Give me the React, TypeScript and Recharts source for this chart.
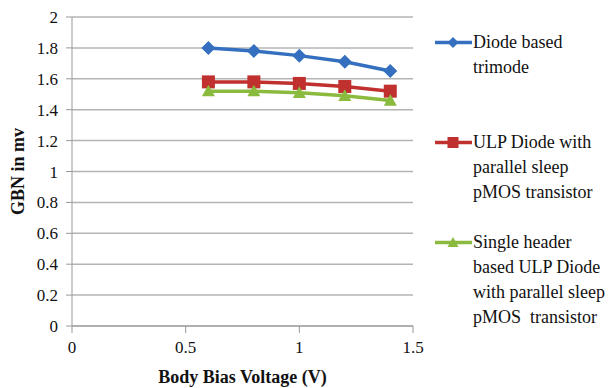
import { CartesianGrid, Line, LineChart, XAxis, YAxis } from "recharts";

const voltages = [0.6, 0.8, 1.0, 1.2, 1.4];
const diodeTrimode = [1.8, 1.78, 1.75, 1.71, 1.65];
const ulpDiode = [1.58, 1.58, 1.57, 1.55, 1.52];
const singleHeader = [1.52, 1.52, 1.51, 1.49, 1.46];
const xTicks = [0, 0.5, 1, 1.5];
const yTicks = [0, 0.2, 0.4, 0.6, 0.8, 1, 1.2, 1.4, 1.6, 1.8, 2];

const data = voltages.map((v, i) => ({ v, a: diodeTrimode[i], b: ulpDiode[i], c: singleHeader[i] }));

const series = [
  { key: "a", color: "#3470bf", shape: "diamond", lines: ["Diode based", "trimode"], top: 30 },
  { key: "b", color: "#c0302e", shape: "square", lines: ["ULP Diode with", "parallel sleep", "pMOS transistor"], top: 130 },
  { key: "c", color: "#8aba3e", shape: "triangle", lines: ["Single header", "based ULP Diode", "with parallel sleep", "pMOS  transistor"], top: 230 },
];

const font = "'Liberation Serif', 'Times New Roman', serif";

function Marker({ shape, cx, cy, color, s = 6 }: { shape: string; cx: number; cy: number; color: string; s?: number }) {
  if (shape === "diamond")
    return <polygon points={`${cx},${cy - s} ${cx + s},${cy} ${cx},${cy + s} ${cx - s},${cy}`} fill={color} />;
  if (shape === "square")
    return <rect x={cx - s} y={cy - s} width={s * 2} height={s * 2} fill={color} />;
  return <polygon points={`${cx},${cy - s} ${cx + s},${cy + s * 0.8} ${cx - s},${cy + s * 0.8}`} fill={color} />;
}

function LegendBox() {
  return (
    <div style={{ position: "absolute", left: 433, top: 0, width: 176, height: 340, fontFamily: font, fontSize: 18, color: "#111" }}>
      {series.map((s) => (
        <div key={s.key} style={{ position: "absolute", left: 0, top: s.top }}>
          <svg width={40} height={25} style={{ position: "absolute", left: 0, top: 0 }}>
            <line x1={2} y1={12.5} x2={39} y2={12.5} stroke={s.color} strokeWidth={3.5} />
            <Marker shape={s.shape} cx={20} cy={12.5} color={s.color} s={5.5} />
          </svg>
          <div style={{ position: "absolute", left: 40, top: 0, lineHeight: "25px", whiteSpace: "pre" }}>
            {s.lines.map((t) => (
              <div key={t}>{t}</div>
            ))}
          </div>
        </div>
      ))}
    </div>
  );
}

export default function App() {
  return (
    <div style={{ position: "absolute", left: 0, top: 0, width: 609, height: 388, background: "#fff", fontFamily: font }}>
      <LineChart width={609} height={388} data={data} margin={{ top: 17, right: 196, bottom: 32, left: 32 }} style={{ fontFamily: font }}>
        <CartesianGrid vertical={false} stroke="#b4b4b4" strokeWidth={1.5} />
        <XAxis
          type="number"
          dataKey="v"
          domain={[0, 1.5]}
          ticks={xTicks}
          tickFormatter={(t: number) => String(t)}
          stroke="#999"
          tickSize={7}
          tickMargin={8}
          tick={{ fill: "#111", fontSize: 17, fontFamily: font }}
          label={{ value: "Body Bias Voltage (V)", position: "insideBottom", offset: -27, fill: "#111", fontSize: 18, fontWeight: "bold", fontFamily: font }}
        />
        <YAxis
          type="number"
          domain={[0, 2]}
          ticks={yTicks}
          tickFormatter={(t: number) => String(Math.round(t * 10) / 10)}
          width={40}
          stroke="#999"
          tickSize={6}
          tickMargin={8}
          tick={{ fill: "#111", fontSize: 17, fontFamily: font }}
          label={{ value: "GBN in mv", angle: -90, position: "insideLeft", offset: -14, fill: "#111", fontSize: 18, fontWeight: "bold", fontFamily: font, style: { textAnchor: "middle" } }}
        />
        {series.map((s) => (
          <Line
            key={s.key}
            dataKey={s.key}
            stroke={s.color}
            strokeWidth={3.5}
            isAnimationActive={false}
            dot={(p: any) => <Marker key={`${s.key}-${p.index}`} shape={s.shape} cx={p.cx} cy={p.cy} color={s.color} s={s.shape === "diamond" ? 7 : 6.5} />}
          />
        ))}
      </LineChart>
      <LegendBox />
    </div>
  );
}
